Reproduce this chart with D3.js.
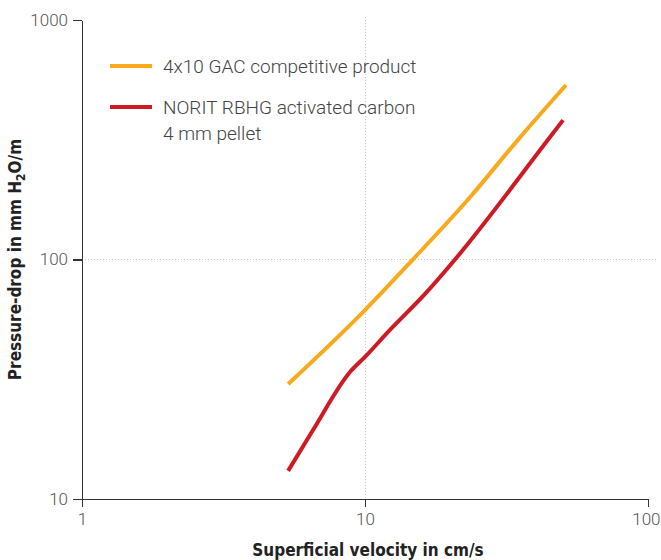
<!DOCTYPE html>
<html>
<head>
  <title>Pressure drop</title>
  <style>
  body {
    margin: 0;
    font-family: Roboto, "Open Sans", sans-serif;
    background: #fff;
  }

  .axis path,
  .axis line {
    stroke: #333;
    stroke-width: 1.3;
    shape-rendering: crispedges;
  }

  .axis text {
    font-family: Roboto, sans-serif;
    font-weight: 300;
    font-size: 17px;
    fill: #555;
  }

  .grid {
    stroke: #c8c8c8;
    stroke-width: 1;
    stroke-dasharray: 1, 2;
    shape-rendering: crispedges;
  }

  .series {
    fill: none;
    stroke-width: 4;
    stroke-linejoin: round;
  }

  .legend text {
    font-family: Roboto, sans-serif;
    font-weight: 300;
    font-size: 19px;
    fill: #444;
  }

  .title {
    font-family: "Liberation Sans Narrow", "DejaVu Sans Condensed", sans-serif;
    font-stretch: condensed;
    font-weight: bold;
    font-size: 17px;
    fill: #222;
    text-anchor: middle;
  }
  </style>
  <script src="https://d3js.org/d3.v7.min.js"></script>
</head>
<body>
<div id="container"></div>
<script>
var margin = { top: 20, right: 13, bottom: 61, left: 82 },
    width  = 661 - margin.left - margin.right,
    height = 560 - margin.top - margin.bottom

var xTicks = [1, 10, 100],
    yTicks = [10, 100, 1000]

var seriesNames = ["4x10 GAC competitive product", "NORIT RBHG activated carbon|4 mm pellet"],
    seriesColors = ["#f8a91d", "#cf1a24"]

// velocity (cm/s), pressure drop (mm H2O/m)
var gacVelocity = [5.35, 10, 14.7, 23.5, 34.7, 51.3],
    gacDrop     = [30.2, 61.5, 99.5, 182, 316, 535]

var noritVelocity = [5.35, 6.55, 8.85, 10, 12.25, 16.3, 20.8, 44.3, 50.1],
    noritDrop     = [13.1, 19.4, 33.9, 39.2, 50.8, 71.8, 100, 316, 382]

var series = [
  d3.zip(gacVelocity, gacDrop),
  d3.zip(noritVelocity, noritDrop)
]

var x = d3.scaleLog()
  .domain([1, 100])
  .range([0, width])

var y = d3.scaleLog()
  .domain([10, 1000])
  .range([height, 0])

var svg = d3.select("#container").append("svg")
    .attr("width", width + margin.left + margin.right)
    .attr("height", height + margin.top + margin.bottom)
  .append("g")
    .attr("transform", "translate(" + margin.left + "," + margin.top + ")")

// dotted grid at the middle decades
svg.append("line")
  .attr("class", "grid")
  .attr("x1", x(10)).attr("x2", x(10))
  .attr("y1", -3).attr("y2", height)

svg.append("line")
  .attr("class", "grid")
  .attr("x1", 0).attr("x2", width + 9)
  .attr("y1", y(100)).attr("y2", y(100))

var xax = d3.axisBottom(x)
  .tickValues(xTicks)
  .tickFormat(d3.format("d"))
  .tickSize(8)
  .tickSizeOuter(0)
  .tickPadding(6)

var yax = d3.axisLeft(y)
  .tickValues(yTicks)
  .tickFormat(d3.format("d"))
  .tickSize(9)
  .tickSizeOuter(0)
  .tickPadding(5)

svg.append("g")
  .attr("class", "axis x")
  .attr("transform", "translate(0," + height + ")")
  .call(xax)

// last label sits on the right edge, keep it inside the frame
svg.select(".axis.x").selectAll(".tick text")
  .filter(function(d) { return d === 100 })
  .attr("text-anchor", "end")
  .attr("dx", 12)

svg.append("g")
  .attr("class", "axis y")
  .call(yax)

var line = d3.line()
  .x(function(d) { return x(d[0]) })
  .y(function(d) { return y(d[1]) })
  .curve(d3.curveMonotoneX)

svg.selectAll(".series")
  .data(series)
.enter().append("path")
  .attr("class", "series")
  .attr("stroke", function(d, i) { return seriesColors[i] })
  .attr("d", line)

var legend = svg.selectAll(".legend")
  .data(seriesNames)
.enter().append("g")
  .attr("class", "legend")
  .attr("transform", function(d, i) { return "translate(28," + (46 + i * 41) + ")" })

legend.append("line")
  .attr("x1", 0).attr("x2", 42)
  .attr("y1", 0).attr("y2", 0)
  .attr("stroke-width", 4)
  .attr("stroke", function(d, i) { return seriesColors[i] })

legend.append("text")
  .attr("x", 53)
  .attr("y", 7)
  .each(function(d) {
    var t = d3.select(this)
    d.split("|").forEach(function(part, j) {
      t.append("tspan")
        .attr("x", 53)
        .attr("dy", j ? 26 : 0)
        .text(part)
    })
  })

svg.append("text")
  .attr("class", "title")
  .attr("x", x(10) + 3)
  .attr("y", height + 57)
  .text("Superficial velocity in cm/s")

var yt = svg.append("text")
  .attr("class", "title")
  .attr("transform", "translate(-61," + y(100) + ") rotate(-90)")

yt.append("tspan").text("Pressure-drop in mm H")
yt.append("tspan").attr("dy", 4).attr("font-size", 12).text("2")
yt.append("tspan").attr("dy", -4).text("O/m")
</script>
</body>
</html>
